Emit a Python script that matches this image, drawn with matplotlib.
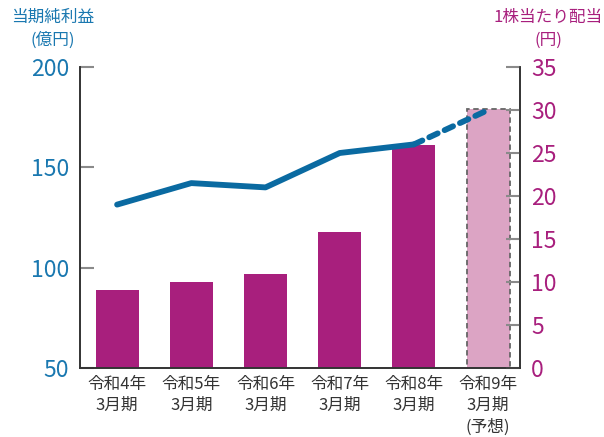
import matplotlib
matplotlib.use("Agg")
import matplotlib.pyplot as plt
import numpy as np

plt.rcParams['font.family'] = ['Noto Sans CJK JP', 'DejaVu Sans']

# data
categories = ["令和4年\n3月期", "令和5年\n3月期", "令和6年\n3月期",
              "令和7年\n3月期", "令和8年\n3月期", "令和9年\n3月期\n(予想)"]
net_income = [89, 93, 97, 118, 161, 179]        # 億円
dividend = [19, 21.5, 21, 25, 26, 30]           # 円

BLUE = '#0a6aa1'
LABEL_BLUE = '#1a78b0'
MAGENTA = '#a81f7d'
PINK = '#dca4c4'
GRAY = '#8a8a8a'
TEXT = '#333333'

fig = plt.figure(figsize=(6.04, 4.37), dpi=100)
ax = fig.add_axes([80/604, 69/437, 440/604, 301/437])
ax2 = ax.twinx()

x = np.arange(len(categories))
colors = [MAGENTA] * 5 + [PINK]
bars = ax.bar(x, net_income, width=0.58, color=colors, zorder=2)
bars[-1].set_edgecolor('#666666')
bars[-1].set_linestyle((0, (3, 2)))
bars[-1].set_linewidth(1.3)

ax.set_ylim(50, 200)
ax.set_yticks([50, 100, 150, 200])
ax.set_xlim(-0.5, 5.43)
ax.set_xticks(x)
ax.set_xticklabels(categories, fontsize=12, color=TEXT, linespacing=1.3)
ax.tick_params(axis='x', length=0, pad=6)
ax.tick_params(axis='y', direction='in', length=10, width=1.5, color=GRAY,
               labelsize=16.5, labelcolor=LABEL_BLUE, pad=8)

ax2.set_ylim(0, 35)
ax2.set_yticks(range(0, 40, 5))
ax2.tick_params(axis='y', direction='in', length=10, width=1.5, color=GRAY,
                labelsize=16.5, labelcolor=MAGENTA, pad=8)

# dividend line: solid for actual, dashed for forecast
ax2.plot(x[:5], dividend[:5], color=BLUE, lw=4.2, solid_capstyle='round',
         solid_joinstyle='round', zorder=3)
ax2.plot(x[4:], dividend[4:], color=BLUE, lw=4.2, ls=(0, (1.6, 1.3)),
         dash_capstyle='round', zorder=3)

for a in (ax, ax2):
    a.spines['top'].set_visible(False)
    for s in ('left', 'right', 'bottom'):
        a.spines[s].set_color(TEXT)
        a.spines[s].set_linewidth(1.2)

fig.text(53/604, 1 - 17/437, "当期純利益", color=LABEL_BLUE, fontsize=12,
         ha='center', va='center')
fig.text(53/604, 1 - 40/437, "(億円)", color=LABEL_BLUE, fontsize=12,
         ha='center', va='center')
fig.text(548/604, 1 - 17/437, "1株当たり配当", color=MAGENTA, fontsize=12,
         ha='center', va='center')
fig.text(548/604, 1 - 40/437, "(円)", color=MAGENTA, fontsize=12,
         ha='center', va='center')

fig.savefig("out.png", dpi=100)
